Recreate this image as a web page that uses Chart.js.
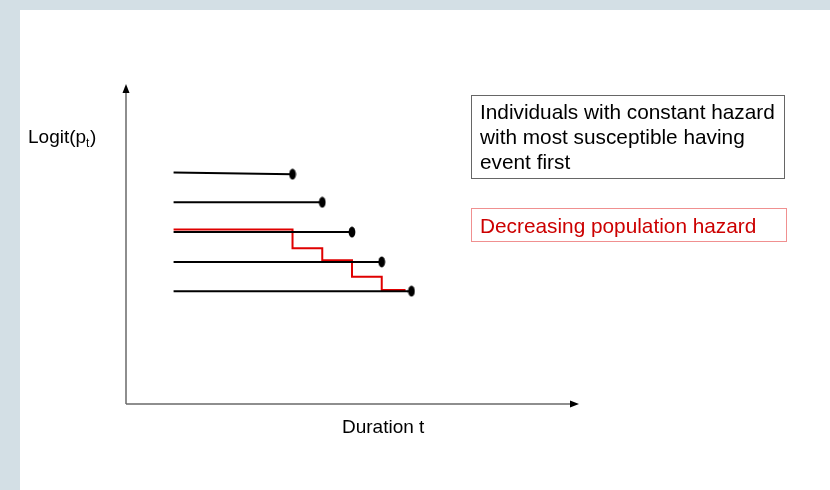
<!DOCTYPE html>
<html>
<head>
<meta charset="utf-8">
<script src="https://cdn.jsdelivr.net/npm/chart.js@4.4.0/dist/chart.umd.min.js"></script>
<style>
    html, body { margin: 0; padding: 0; background: #fff; }
    #wrap { width: 830px; height: 490px; }
</style>
</head>
<body>
<div id="wrap"><canvas id="myChart" width="830" height="490"></canvas></div>
<script>
// individuals: each line starts at startX, ends with an event (dot) at endX
const startX = 1.5;
const endX = [5.5, 6.5, 7.5, 8.5, 9.5];
const startY = [7.84, 6.83, 5.82, 4.81, 3.82];
const endY = [7.78, 6.83, 5.82, 4.81, 3.82];

// population hazard step line
const stepX = [1.5, 5.5, 6.5, 7.5, 8.5, 9.3];
const stepY = [5.91, 5.27, 4.87, 4.31, 3.86, 3.86];

const yLabel = 'Logit(p';
const ySub = 't';
const xLabel = 'Duration t';
const box1Lines = ['Individuals with constant hazard', 'with most susceptible having', 'event first'];
const box2Text = 'Decreasing population hazard';

const FONT = "Arial, 'Liberation Sans', sans-serif";

// vertical ellipse used as the event marker
const dot = document.createElement('canvas');
dot.width = 8;
dot.height = 12;
const dctx = dot.getContext('2d');
dctx.fillStyle = '#000';
dctx.beginPath();
dctx.ellipse(4, 6, 3.4, 5.4, 0, 0, Math.PI * 2);
dctx.fill();

let datasets = [];
for (let i = 0; i < endX.length; i++) {
    datasets.push({
        data: [{x: startX, y: startY[i]}, {x: endX[i], y: endY[i]}],
        borderColor: '#000',
        borderWidth: 2,
        pointRadius: [0, 5],
        pointStyle: dot,
        fill: false,
        clip: false
    });
}
datasets.push({
    data: stepX.map((x, i) => ({x: x, y: stepY[i]})),
    borderColor: '#e00000',
    borderWidth: 2,
    pointRadius: 0,
    stepped: 'before',
    fill: false,
    clip: false
});

const slide = {
    id: 'slide',
    beforeDraw(chart) {
        const c = chart.ctx;
        c.save();
        c.fillStyle = '#d3dfe5';
        c.fillRect(0, 0, chart.width, chart.height);
        c.fillStyle = '#fff';
        c.fillRect(20, 10, chart.width - 20, chart.height - 10);
        c.restore();
    },
    afterDraw(chart) {
        const c = chart.ctx;
        const a = chart.chartArea;
        c.save();
        // axes
        c.strokeStyle = '#6a6a6a';
        c.lineWidth = 1.5;
        c.beginPath();
        c.moveTo(a.left, a.bottom);
        c.lineTo(a.left, a.top + 7);
        c.moveTo(a.left, a.bottom);
        c.lineTo(a.right - 7, a.bottom);
        c.stroke();
        c.fillStyle = '#000';
        c.beginPath();
        c.moveTo(a.left, a.top - 1);
        c.lineTo(a.left - 3.5, a.top + 8);
        c.lineTo(a.left + 3.5, a.top + 8);
        c.closePath();
        c.fill();
        c.beginPath();
        c.moveTo(a.right + 1, a.bottom);
        c.lineTo(a.right - 8, a.bottom - 3.5);
        c.lineTo(a.right - 8, a.bottom + 3.5);
        c.closePath();
        c.fill();

        // axis titles
        c.fillStyle = '#000';
        c.textBaseline = 'alphabetic';
        c.font = '19px ' + FONT;
        c.fillText(yLabel, 28, 143);
        let w = c.measureText(yLabel).width;
        c.font = '12px ' + FONT;
        c.fillText(ySub, 28 + w, 147);
        let w2 = c.measureText(ySub).width;
        c.font = '19px ' + FONT;
        c.fillText(')', 28 + w + w2 + 0.5, 143);
        c.fillText(xLabel, 342, 433);

        // text boxes
        c.font = '20.8px ' + FONT;
        c.strokeStyle = '#666';
        c.lineWidth = 1;
        c.strokeRect(471.5, 95.5, 313, 83);
        for (let i = 0; i < box1Lines.length; i++) {
            c.fillText(box1Lines[i], 480, 119 + i * 25);
        }
        c.strokeStyle = '#f09090';
        c.strokeRect(471.5, 208.5, 315, 33);
        c.fillStyle = '#cc0000';
        c.fillText(box2Text, 480, 233);
        c.restore();
    }
};

const ctx = document.getElementById('myChart').getContext('2d');
const myChart = new Chart(ctx, {
    type: 'line',
    data: { datasets: datasets },
    options: {
        responsive: false,
        animation: false,
        layout: { padding: { left: 126, top: 85, right: 252, bottom: 86 } },
        scales: {
            x: { type: 'linear', min: -0.1, max: 15.1, display: false },
            y: { type: 'linear', min: 0, max: 10.8, display: false }
        },
        plugins: {
            legend: { display: false },
            tooltip: { enabled: false }
        }
    },
    plugins: [slide]
});
</script>
</body>
</html>
